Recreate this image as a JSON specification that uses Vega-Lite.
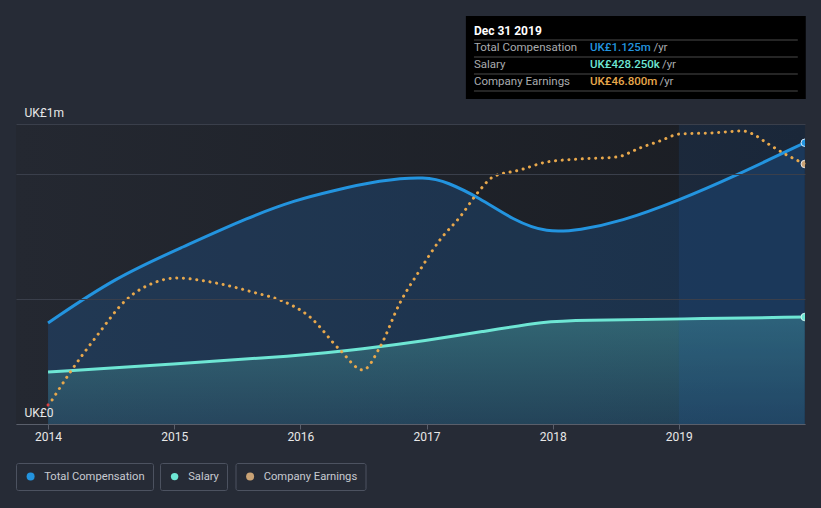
{
  "$schema": "https://vega.github.io/schema/vega-lite/v6.json",
  "width": 789,
  "height": 300,
  "autosize": {"type": "none"},
  "padding": {"left": 16, "top": 124, "right": 16, "bottom": 84},
  "background": "#262b36",
  "config": {
    "font": "Roboto",
    "view": {"stroke": null},
    "legend": {"orient": "none", "legendY": 339, "direction": "horizontal", "title": null, "strokeColor": "#4c5260", "padding": 8, "cornerRadius": 2, "labelColor": "#c6cad1", "labelFontSize": 11.2, "labelFont": "Roboto", "labelOffset": 8, "symbolOffset": 1, "symbolSize": 64, "symbolType": "circle", "symbolStrokeWidth": 0}
  },
  "datasets": {
    "comp": [
      {"series": "Total Compensation", "t": 2014.000, "v": 0.404},
      {"series": "Total Compensation", "t": 2014.539, "v": 0.588},
      {"series": "Total Compensation", "t": 2015.070, "v": 0.708},
      {"series": "Total Compensation", "t": 2015.593, "v": 0.828},
      {"series": "Total Compensation", "t": 2015.965, "v": 0.896},
      {"series": "Total Compensation", "t": 2016.235, "v": 0.930},
      {"series": "Total Compensation", "t": 2016.631, "v": 0.976},
      {"series": "Total Compensation", "t": 2017.003, "v": 0.990},
      {"series": "Total Compensation", "t": 2017.162, "v": 0.968},
      {"series": "Total Compensation", "t": 2017.423, "v": 0.904},
      {"series": "Total Compensation", "t": 2017.685, "v": 0.816},
      {"series": "Total Compensation", "t": 2017.954, "v": 0.764},
      {"series": "Total Compensation", "t": 2018.216, "v": 0.776},
      {"series": "Total Compensation", "t": 2018.532, "v": 0.808},
      {"series": "Total Compensation", "t": 2019.008, "v": 0.896},
      {"series": "Total Compensation", "t": 2019.428, "v": 0.988},
      {"series": "Total Compensation", "t": 2019.998, "v": 1.125},
      {"series": "Salary", "t": 2014.000, "v": 0.208},
      {"series": "Salary", "t": 2015.000, "v": 0.240},
      {"series": "Salary", "t": 2015.965, "v": 0.272},
      {"series": "Salary", "t": 2016.500, "v": 0.300},
      {"series": "Salary", "t": 2017.003, "v": 0.334},
      {"series": "Salary", "t": 2017.423, "v": 0.368},
      {"series": "Salary", "t": 2017.954, "v": 0.412},
      {"series": "Salary", "t": 2018.216, "v": 0.415},
      {"series": "Salary", "t": 2019.008, "v": 0.420},
      {"series": "Salary", "t": 2019.998, "v": 0.428}
    ],
    "earnings": [
      {"series": "Company Earnings", "t": 2014.000, "e": -0.99},
      {"series": "Company Earnings", "t": 2014.032, "e": 0.0},
      {"series": "Company Earnings", "t": 2014.182, "e": 5.75},
      {"series": "Company Earnings", "t": 2014.380, "e": 12.49},
      {"series": "Company Earnings", "t": 2014.618, "e": 19.83},
      {"series": "Company Earnings", "t": 2014.856, "e": 23.40},
      {"series": "Company Earnings", "t": 2015.014, "e": 24.19},
      {"series": "Company Earnings", "t": 2015.331, "e": 23.20},
      {"series": "Company Earnings", "t": 2015.648, "e": 21.22},
      {"series": "Company Earnings", "t": 2015.838, "e": 19.83},
      {"series": "Company Earnings", "t": 2016.076, "e": 16.46},
      {"series": "Company Earnings", "t": 2016.314, "e": 9.92},
      {"series": "Company Earnings", "t": 2016.496, "e": 5.95},
      {"series": "Company Earnings", "t": 2016.631, "e": 10.51},
      {"series": "Company Earnings", "t": 2016.789, "e": 19.24},
      {"series": "Company Earnings", "t": 2016.948, "e": 25.78},
      {"series": "Company Earnings", "t": 2017.106, "e": 31.73},
      {"series": "Company Earnings", "t": 2017.265, "e": 36.29},
      {"series": "Company Earnings", "t": 2017.423, "e": 41.64},
      {"series": "Company Earnings", "t": 2017.526, "e": 44.22},
      {"series": "Company Earnings", "t": 2017.740, "e": 45.61},
      {"series": "Company Earnings", "t": 2017.954, "e": 47.20},
      {"series": "Company Earnings", "t": 2018.216, "e": 47.79},
      {"series": "Company Earnings", "t": 2018.509, "e": 48.19},
      {"series": "Company Earnings", "t": 2018.691, "e": 49.97},
      {"series": "Company Earnings", "t": 2018.849, "e": 51.36},
      {"series": "Company Earnings", "t": 2019.008, "e": 52.75},
      {"series": "Company Earnings", "t": 2019.246, "e": 52.94},
      {"series": "Company Earnings", "t": 2019.507, "e": 53.34},
      {"series": "Company Earnings", "t": 2019.586, "e": 52.75},
      {"series": "Company Earnings", "t": 2019.697, "e": 50.96},
      {"series": "Company Earnings", "t": 2019.856, "e": 48.58},
      {"series": "Company Earnings", "t": 2019.998, "e": 46.80}
    ],
    "tip": [
      {"row": "Dec 31 2019", "kind": "head"},
      {"row": "Total Compensation", "kind": "item", "series": "Total Compensation", "value": "UK£1.125m"},
      {"row": "Salary", "kind": "item", "series": "Salary", "value": "UK£428.250k"},
      {"row": "Company Earnings", "kind": "item", "series": "Company Earnings", "value": "UK£46.800m"}
    ]
  },
  "layer": [
    {
      "data": {"values": [{"zone": "plot"}]},
      "mark": {"type": "rect", "fill": {"gradient": "linear", "x1": 0, "y1": 0, "x2": 1, "y2": 0, "stops": [{"offset": 0, "color": "#242831"}, {"offset": 1, "color": "#1a1d23"}]}},
      "encoding": {
        "x": {"datum": 2013.746, "type": "quantitative", "axis": null},
        "x2": {"datum": 2020.0}
      }
    },
    {
      "data": {"name": "comp"},
      "transform": [{"filter": "datum.series == 'Total Compensation'"}],
      "mark": {"type": "area", "interpolate": "basis", "fill": "#1d5fa5", "fillOpacity": 0.3},
      "encoding": {
        "x": {
          "field": "t",
          "type": "quantitative",
          "scale": {"domain": [2013.746, 2020.0], "nice": false, "zero": false},
          "axis": {
            "values": [2014, 2015, 2016, 2017, 2018, 2019],
            "format": "d",
            "grid": false,
            "domainColor": "#5a5f6b",
            "tickColor": "#5a5f6b",
            "tickSize": 5,
            "labelColor": "#e8e8e8",
            "labelFontSize": 12,
            "labelPadding": 2,
            "labelFlush": false,
            "title": null,
            "orient": "bottom",
            "zindex": 1
          }
        },
        "y": {
          "field": "v",
          "type": "quantitative",
          "scale": {"domain": [0, 1.2], "nice": false, "zero": false},
          "axis": {
            "values": [0, 0.5, 1, 1.2],
            "grid": true,
            "gridColor": "#3a3f4b",
            "domain": false,
            "ticks": false,
            "labelExpr": "datum.value == 0 ? 'UK£0' : (datum.value == 1.2 ? 'UK£1m' : '')",
            "labelAlign": "left",
            "labelBaseline": "alphabetic",
            "labelPadding": -8,
            "labelOffset": -8,
            "labelColor": "#e8e8e8",
            "labelFontSize": 12,
            "labelFlush": false,
            "labelOverlap": false,
            "title": null,
            "zindex": 1
          }
        }
      }
    },
    {
      "data": {"name": "comp"},
      "transform": [{"filter": "datum.series == 'Salary'"}],
      "mark": {"type": "area", "interpolate": "basis", "fill": {"gradient": "linear", "x1": 0, "y1": 0, "x2": 0, "y2": 1, "stops": [{"offset": 0, "color": "rgba(94,207,196,0.32)"}, {"offset": 1, "color": "rgba(94,207,196,0.1)"}]}},
      "encoding": {
        "x": {"field": "t", "type": "quantitative", "axis": null},
        "y": {"field": "v", "type": "quantitative", "scale": {"domain": [0, 1.2], "nice": false, "zero": false}, "axis": null}
      }
    },
    {
      "data": {"values": [{"zone": "latest year"}]},
      "mark": {"type": "rect", "fill": "#1f5fae", "opacity": 0.16},
      "encoding": {
        "x": {"datum": 2019.0, "type": "quantitative", "axis": null},
        "x2": {"datum": 2020.0}
      }
    },
    {
      "data": {"name": "comp"},
      "transform": [{"filter": "datum.series == 'Total Compensation'"}],
      "mark": {"type": "line", "interpolate": "basis", "stroke": "#2394df", "strokeWidth": 3},
      "encoding": {
        "x": {"field": "t", "type": "quantitative", "axis": null},
        "y": {"field": "v", "type": "quantitative", "scale": {"domain": [0, 1.2], "nice": false, "zero": false}, "axis": null}
      }
    },
    {
      "data": {"name": "comp"},
      "transform": [{"filter": "datum.series == 'Salary'"}],
      "mark": {"type": "line", "interpolate": "basis", "stroke": "#6ee6d4", "strokeWidth": 3},
      "encoding": {
        "x": {"field": "t", "type": "quantitative", "axis": null},
        "y": {"field": "v", "type": "quantitative", "scale": {"domain": [0, 1.2], "nice": false, "zero": false}, "axis": null}
      }
    },
    {
      "data": {"name": "comp"},
      "transform": [{"filter": "datum.series == 'Total Compensation' && datum.t > 2019.9"}],
      "mark": {"type": "point", "filled": true, "fill": "#2394df", "stroke": "#d5e9fb", "strokeWidth": 1, "opacity": 1, "size": 55, "clip": true},
      "encoding": {
        "x": {"field": "t", "type": "quantitative", "axis": null},
        "y": {"field": "v", "type": "quantitative", "scale": {"domain": [0, 1.2], "nice": false, "zero": false}, "axis": null},
        "shape": {
          "field": "series",
          "type": "nominal",
          "scale": {"domain": ["Total Compensation"], "range": ["circle"]},
          "legend": {"legendX": 0, "symbolFillColor": "#2394df"}
        }
      }
    },
    {
      "data": {"name": "comp"},
      "transform": [{"filter": "datum.series == 'Salary' && datum.t > 2019.9"}],
      "mark": {"type": "point", "filled": true, "fill": "#6ee6d4", "stroke": "#d5f5f0", "strokeWidth": 1, "opacity": 1, "clip": true},
      "encoding": {
        "x": {"field": "t", "type": "quantitative", "axis": null},
        "y": {"field": "v", "type": "quantitative", "scale": {"domain": [0, 1.2], "nice": false, "zero": false}, "axis": null},
        "size": {
          "field": "series",
          "type": "ordinal",
          "scale": {"domain": ["Salary"], "range": [55, 55]},
          "legend": {"legendX": 144, "symbolFillColor": "#6ee6d4"}
        }
      }
    },
    {
      "data": {"name": "earnings"},
      "transform": [{"filter": "datum.t >= 2014.03"}],
      "mark": {"type": "line", "interpolate": "monotone", "stroke": "#e8a84c", "strokeWidth": 3, "strokeDash": [0.1, 6.6], "strokeCap": "round"},
      "encoding": {
        "x": {"field": "t", "type": "quantitative", "axis": null},
        "y": {"field": "e", "type": "quantitative", "scale": {"domain": [-4.76, 54.73], "nice": false, "zero": false}, "axis": null}
      }
    },
    {
      "data": {"name": "earnings"},
      "transform": [{"filter": "datum.t <= 2014.04"}],
      "mark": {"type": "line", "interpolate": "monotone", "stroke": "#e0403f", "strokeWidth": 3, "strokeDash": [0.1, 6.6], "strokeCap": "round"},
      "encoding": {
        "x": {"field": "t", "type": "quantitative", "axis": null},
        "y": {"field": "e", "type": "quantitative", "scale": {"domain": [-4.76, 54.73], "nice": false, "zero": false}, "axis": null}
      }
    },
    {
      "data": {"name": "earnings"},
      "transform": [{"filter": "datum.t > 2019.9"}],
      "mark": {"type": "point", "filled": true, "fill": "#c9a275", "stroke": "#e8e8e8", "strokeWidth": 1, "size": 55, "clip": true},
      "encoding": {
        "x": {"field": "t", "type": "quantitative", "axis": null},
        "y": {"field": "e", "type": "quantitative", "scale": {"domain": [-4.76, 54.73], "nice": false, "zero": false}, "axis": null},
        "opacity": {
          "field": "series",
          "type": "ordinal",
          "scale": {"domain": ["Company Earnings"], "range": [1, 1]},
          "legend": {"legendX": 219.5, "symbolFillColor": "#e8a84c"}
        }
      }
    },
    {
      "data": {"values": [{"box": "tooltip"}]},
      "mark": {"type": "rect", "fill": "#000000"},
      "encoding": {
        "x": {"datum": 2017.312, "type": "quantitative", "axis": null},
        "x2": {"datum": 2020.006},
        "y": {"datum": 1.30, "type": "quantitative", "scale": {"domain": [0, 1.2], "nice": false, "zero": false}, "axis": null},
        "y2": {"datum": 1.632}
      }
    },
    {
      "data": {"name": "tip"},
      "mark": {"type": "rule", "stroke": "#4a4a4a", "strokeWidth": 1, "yOffset": 9},
      "encoding": {
        "x": {"datum": 2017.376, "type": "quantitative", "axis": null},
        "x2": {"datum": 2019.943},
        "y": {"field": "row", "type": "nominal", "scale": {"type": "point", "domain": ["Dec 31 2019", "Total Compensation", "Salary", "Company Earnings"], "range": [-93, -42], "padding": 0}, "axis": null}
      }
    },
    {
      "data": {"name": "tip"},
      "transform": [{"filter": "datum.kind == 'head'"}],
      "mark": {"type": "text", "align": "left", "baseline": "middle", "fontSize": 12, "fontWeight": "bold", "fill": "#ffffff"},
      "encoding": {
        "x": {"datum": 2017.376, "type": "quantitative", "axis": null},
        "y": {"field": "row", "type": "nominal", "scale": {"type": "point", "domain": ["Dec 31 2019", "Total Compensation", "Salary", "Company Earnings"], "range": [-93, -42], "padding": 0}, "axis": null},
        "text": {"field": "row"}
      }
    },
    {
      "data": {"name": "tip"},
      "transform": [{"filter": "datum.kind == 'item'"}],
      "mark": {"type": "text", "align": "left", "baseline": "middle", "fontSize": 11.5, "fill": "#a9abae"},
      "encoding": {
        "x": {"datum": 2017.376, "type": "quantitative", "axis": null},
        "y": {"field": "row", "type": "nominal", "scale": {"type": "point", "domain": ["Dec 31 2019", "Total Compensation", "Salary", "Company Earnings"], "range": [-93, -42], "padding": 0}, "axis": null},
        "text": {"field": "row"}
      }
    },
    {
      "data": {"name": "tip"},
      "transform": [{"filter": "datum.kind == 'item'"}],
      "mark": {"type": "text", "align": "left", "baseline": "middle", "fontSize": 11.5, "fill": "#a9abae", "text": "/yr", "dx": {"expr": "datum.series == 'Salary' ? 72 : (datum.series == 'Company Earnings' ? 69.5 : 63.5)"}},
      "encoding": {
        "x": {"datum": 2018.295, "type": "quantitative", "axis": null},
        "y": {"field": "row", "type": "nominal", "scale": {"type": "point", "domain": ["Dec 31 2019", "Total Compensation", "Salary", "Company Earnings"], "range": [-93, -42], "padding": 0}, "axis": null}
      }
    },
    {
      "data": {"name": "tip"},
      "transform": [{"filter": "datum.kind == 'item'"}],
      "mark": {"type": "text", "align": "left", "baseline": "middle", "fontSize": 11.5, "fontWeight": 500},
      "encoding": {
        "x": {"datum": 2018.295, "type": "quantitative", "axis": null},
        "y": {"field": "row", "type": "nominal", "scale": {"type": "point", "domain": ["Dec 31 2019", "Total Compensation", "Salary", "Company Earnings"], "range": [-93, -42], "padding": 0}, "axis": null},
        "text": {"field": "value"},
        "color": {"field": "series", "type": "nominal", "scale": {"domain": ["Total Compensation", "Salary", "Company Earnings"], "range": ["#2394df", "#6ee6d4", "#e8a84c"]}, "legend": null}
      }
    }
  ],
  "resolve": {"scale": {"y": "independent"}, "axis": {"x": "independent"}}
}
